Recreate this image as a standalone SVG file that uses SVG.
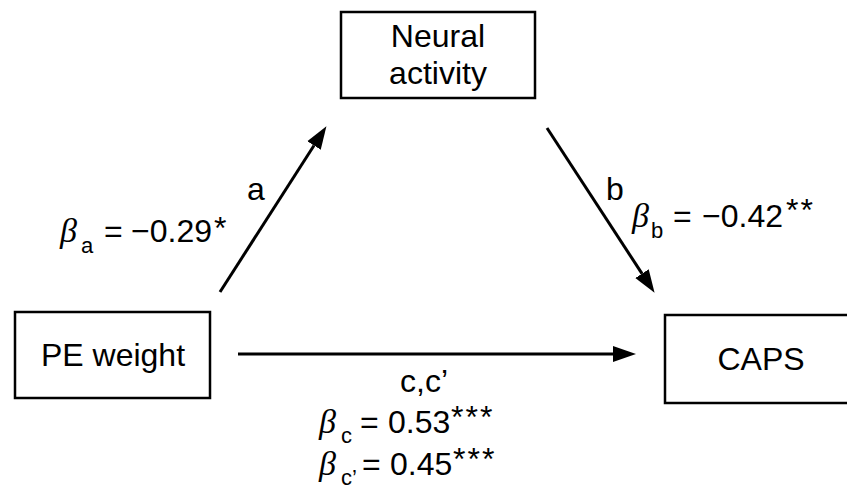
<svg xmlns="http://www.w3.org/2000/svg" width="847" height="495" viewBox="0 0 847 495">
<style>
.box{fill:#fff;stroke:#000;stroke-width:2.5}
.t{font-family:"Liberation Sans",Arial,sans-serif;font-size:32px;fill:#000}
.b{font-family:"Liberation Serif","Times New Roman",serif;font-style:italic;font-size:34px}
.sub{font-size:22px}
.st{letter-spacing:2px}
.conn{stroke:#000;stroke-width:3;fill:none}
</style>
<defs>
<marker id="ah" markerUnits="userSpaceOnUse" markerWidth="24" markerHeight="18" refX="0" refY="8" orient="auto" viewBox="0 -1 24 18">
<path d="M0,0 L23,8 L0,16 z" fill="#000"/>
</marker>
</defs>
<rect width="847" height="495" fill="#fff"/>
<g id="node-neural">
<rect class="box" x="341" y="12" width="194" height="86"/>
<text class="t" x="438" y="47" text-anchor="middle">Neural</text>
<text class="t" x="438" y="84" text-anchor="middle">activity</text>
</g>
<g id="node-pe">
<rect class="box" x="15" y="312" width="195" height="86"/>
<text class="t" x="113" y="366" text-anchor="middle">PE weight</text>
</g>
<g id="node-caps">
<rect class="box" x="665" y="315" width="195" height="88"/>
<text class="t" x="761" y="370" text-anchor="middle">CAPS</text>
</g>
<g id="connectors">
<line class="conn" x1="220" y1="292" x2="314" y2="145.5" marker-end="url(#ah)"/>
<line class="conn" x1="547" y1="128" x2="642" y2="273.6" marker-end="url(#ah)"/>
<line class="conn" x1="238" y1="354" x2="613" y2="354" marker-end="url(#ah)"/>
</g>
<g id="labels">
<text class="t" x="247" y="200">a</text>
<text class="t" x="606" y="200">b</text>
<text class="t" x="424" y="392" text-anchor="middle">c,c’</text>
<text class="t"><tspan class="b" x="60" y="242">β</tspan><tspan class="sub" x="81" y="253">a</tspan><tspan x="104" y="242">=</tspan><tspan x="131" y="242">−0.29</tspan><tspan x="214" y="239">*</tspan></text>
<text class="t"><tspan class="b" x="632" y="227">β</tspan><tspan class="sub" x="651" y="238">b</tspan><tspan x="673" y="227">=</tspan><tspan x="702" y="227">−0.42</tspan><tspan class="st" x="786" y="221">**</tspan></text>
<text class="t"><tspan class="b" x="319" y="433">β</tspan><tspan class="sub" x="341" y="443">c</tspan><tspan x="360" y="433">=</tspan><tspan x="388" y="433">0.53</tspan><tspan class="st" x="451" y="428">***</tspan></text>
<text class="t"><tspan class="b" x="319" y="475">β</tspan><tspan class="sub" x="341" y="485">c’</tspan><tspan x="362" y="475">=</tspan><tspan x="390" y="475">0.45</tspan><tspan class="st" x="453" y="470">***</tspan></text>
</g>
</svg>
